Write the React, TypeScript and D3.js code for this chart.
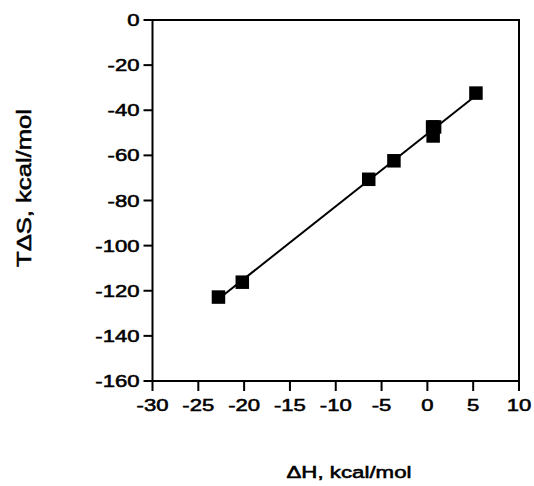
import React from 'react';
import * as d3 from 'd3';

const dH = [-22.8, -20.2, -6.4, -3.65, 0.57, 0.79, 0.63, 5.3];
const TdS = [-122.8, -116.2, -70.6, -62.4, -47.4, -47.4, -51.4, -32.4];
const xTicks = [-30, -25, -20, -15, -10, -5, 0, 5, 10];
const yTicks = [0, -20, -40, -60, -80, -100, -120, -140, -160];
const xLabel = 'ΔH, kcal/mol';
const yLabel = 'TΔS, kcal/mol';

export default function App() {
  const W = 534, H = 486;
  const x = d3.scaleLinear().domain([-30, 10]).range([152.5, 519]);
  const y = d3.scaleLinear().domain([-160, 0]).range([381, 20]);

  const mx = d3.mean(dH)!;
  const my = d3.mean(TdS)!;
  let sxy = 0, sxx = 0;
  dH.forEach((v, i) => { sxy += (v - mx) * (TdS[i] - my); sxx += (v - mx) * (v - mx); });
  const slope = sxy / sxx;
  const icpt = my - slope * mx;
  const [x0, x1] = d3.extent(dH) as [number, number];
  const fit = d3.line<number>().x(d => x(d)).y(d => y(slope * d + icpt));

  const font = '"Liberation Sans", Arial, Helvetica, sans-serif';
  const sq = 13.5;
  const [xl, xr] = x.range();
  const [yb, yt] = y.range();
  const txt = { stroke: '#000', strokeWidth: 0.55 } as const;

  return (
    <svg width={W} height={H} style={{ position: 'absolute', left: 0, top: 0, background: '#fff' }}
      fontFamily={font} fill="#000">
      <rect x={0} y={0} width={W} height={H} fill="#fff" />
      {/* frame */}
      <rect x={xl} y={yt} width={xr - xl} height={yb - yt} fill="none" stroke="#000" strokeWidth={2} />
      {/* x ticks */}
      {xTicks.map(t => (
        <g key={'x' + t}>
          <line x1={x(t)} x2={x(t)} y1={yb} y2={yb + 10} stroke="#000" strokeWidth={2} />
          <text transform={`translate(${x(t)},${yb + 30}) scale(1.3,1)`} textAnchor="middle" fontSize={17} {...txt}>{t}</text>
        </g>
      ))}
      {/* y ticks */}
      {yTicks.map(t => (
        <g key={'y' + t}>
          <line x1={xl - 9} x2={xl} y1={y(t)} y2={y(t)} stroke="#000" strokeWidth={2} />
          <text transform={`translate(${xl - 13},${y(t) + 6}) scale(1.3,1)`} textAnchor="end" fontSize={17} {...txt}>{t}</text>
        </g>
      ))}
      {/* fit line */}
      <path d={fit([x0, x1])!} fill="none" stroke="#000" strokeWidth={2} />
      {/* points */}
      {dH.map((v, i) => (
        <rect key={'p' + i} x={x(v) - sq / 2} y={y(TdS[i]) - sq / 2} width={sq} height={sq} fill="#000" />
      ))}
      {/* axis labels */}
      <text transform={`translate(349,478) scale(1.35,1)`} textAnchor="middle" fontSize={16.5} {...txt}>{xLabel}</text>
      <text transform={`translate(31,188) rotate(-90) scale(1.22,1)`} textAnchor="middle" fontSize={21} {...txt}>{yLabel}</text>
    </svg>
  );
}
